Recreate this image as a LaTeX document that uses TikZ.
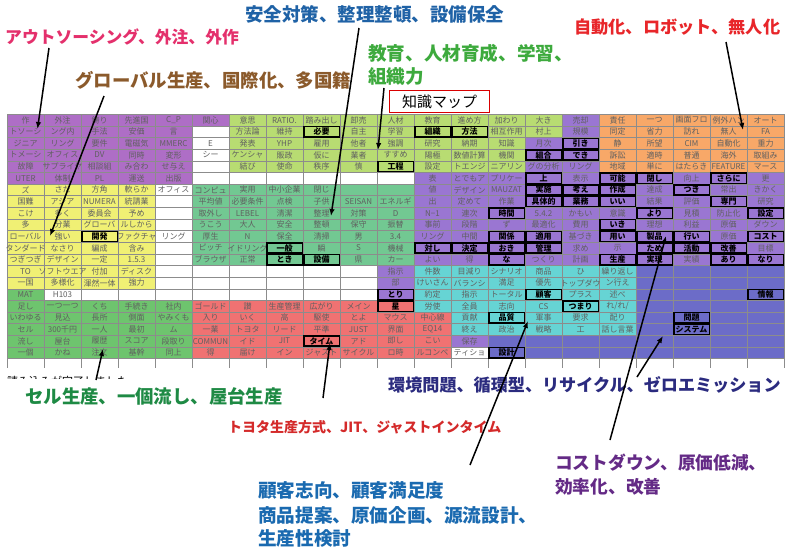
\documentclass[tikz,border=0pt]{standalone}
\usepackage{fontspec}
\setmainfont{Noto Sans CJK JP}
\usetikzlibrary{arrows.meta}
\definecolor{cPurA}{HTML}{AE6EC6}
\definecolor{cPurB}{HTML}{9A76D2}
\definecolor{cYG}{HTML}{B8DC72}
\definecolor{cOra}{HTML}{F8A868}
\definecolor{cYel}{HTML}{F0F074}
\definecolor{cSea}{HTML}{72C892}
\definecolor{cGrn}{HTML}{6EC46E}
\definecolor{cRed}{HTML}{F07272}
\definecolor{cCya}{HTML}{66D4D4}
\definecolor{cSla}{HTML}{6C6CC8}
\definecolor{cTxt}{HTML}{606060}
\definecolor{lPink}{HTML}{E4306C}
\definecolor{lBrown}{HTML}{8B5A2B}
\definecolor{lBlue}{HTML}{1F62A6}
\definecolor{lGreen}{HTML}{3DAA3D}
\definecolor{lRed}{HTML}{E8262A}
\definecolor{lDGreen}{HTML}{1E8A44}
\definecolor{lTRed}{HTML}{D42A2A}
\definecolor{lNavy}{HTML}{2B2B7F}
\definecolor{lCBlue}{HTML}{1A6AB0}
\definecolor{lPurp}{HTML}{642A86}
\newcommand\blk[5]{\fill[#5] ({7+37*(#1)},{114.3+11.63*((#3)-1)}) rectangle ({7+37*((#2)+1)},{114.3+11.63*(#4)});}
\newcommand\rowtext[2]{\foreach \t [count=\ci from 0] in {#2} {\node[ct] (t\ci-#1) at ({25.5+37*\ci},{114.3+11.63*(#1-0.5)}) {\t};}}
\begin{document}
\begin{tikzpicture}[x=1pt,y=-1pt,
  ct/.style={font=\fontsize{8}{8}\selectfont, text=cTxt, inner sep=0pt},
  bx/.style={draw=black, line width=1.5pt, minimum width=35.5pt, minimum height=10.2pt, inner sep=0pt, font=\fontsize{8}{8}\selectfont\bfseries, text=black},
  gridl/.style={draw=black!45, line width=0.5pt},
  lab/.style={anchor=west, inner sep=0pt, font=\bfseries},
  arr/.style={draw=black, line width=1.5pt, -{Latex[length=7pt,width=5.5pt]}}]
\useasboundingbox (0,0) rectangle (793,547);
\fill[white] (0,0) rectangle (793,547);
% colour blocks
\blk{0}{4}{1}{6}{cPurA}
\blk{5}{5}{1}{1}{cPurA}
\blk{6}{14}{1}{5}{cYG}
\blk{14}{14}{3}{5}{cPurB}
\blk{15}{15}{1}{5}{cPurB}
\blk{16}{20}{1}{5}{cOra}
\blk{11}{15}{6}{13}{cPurB}
\blk{16}{20}{6}{13}{cPurB}
\blk{10}{10}{14}{16}{cPurB}
\blk{12}{12}{20}{20}{cPurB}
\blk{0}{3}{7}{15}{cYel}
\blk{5}{10}{7}{13}{cSea}
\blk{0}{4}{17}{21}{cGrn}
\blk{0}{0}{16}{16}{cGrn}
\blk{5}{10}{17}{21}{cRed}
\blk{11}{11}{18}{21}{cRed}
\blk{11}{16}{14}{17}{cCya}
\blk{12}{16}{18}{19}{cCya}
\blk{17}{20}{14}{21}{cSla}
\blk{13}{16}{20}{21}{cSla}
% grid
\foreach \c in {0,...,21} \draw[gridl] ({7+37*\c},114.3) -- ({7+37*\c},368);
\foreach \r in {0,...,21} \draw[gridl] (7,{114.3+11.63*\r}) -- (784,{114.3+11.63*\r});
% cell texts
\rowtext{1}{作,外注,鋳り,先進国,C\_P,関心,意思,RATIO.,踏み出し,卸売,人材,教育,進め方,加わり,大き,売却,責任,一つ,画面フロ,例外ハン,オート}
\rowtext{2}{トソーシ,ング内,手法,安価,言,{},方法論,維持,{},自主,学習,{},{},相互作用,村上,規模,同定,省力,訪れ,無人,FA}
\rowtext{3}{ジニア,リング,要件,電磁気,MMERC,E,発表,YHP,雇用,他者,強調,研究,納期,知識,月次,{},静,所望,CIM,自動化,重力}
\rowtext{4}{トメーシ,オフィス,DV,同時,変形,シー,ケンシャ,販政,仮に,業者,すすめ,陽極,数値計算,機関,{},{},訴訟,適時,普通,海外,取組み}
\rowtext{5}{故障,サプライヤ,相談組,み合わ,せ与え,{},結び,使命,秩序,慎,{},設定,トエンジ,ニアリン,グの分析,リング,地域,単に,はたらき,FEATURE,マース}
\rowtext{6}{UTER,体制,PL,運送,出版,{},{},{},{},{},{},表,とでもア,プリケー,{},表示,{},{},向上,{},更}
\rowtext{7}{ズ,さた,方角,軟らか,オフィス,コンピュ,実用,中小企業,閉じ,{},{},値,デザイン,MAUZAT,{},{},{},達成,{},常出,きかく}
\rowtext{8}{国難,アジア,NUMERA,統請業,{},平均値,必要条件,点検,子供,SEISAN,エネルギ,出,定めて,作業,{},{},{},結果,評価,{},研究}
\rowtext{9}{こけ,多く,委員会,予め,{},取外し,LEBEL,清潔,整理,対策,D,N−1,連次,{},5.4.2,かもい,意識,{},見積,防止化,{}}
\rowtext{10}{多,分業,グローバ,ルしから,{},うこう,大人,安全,整頓,保守,振替,事前,段階,ず,最適化,費用,{},理想,利益,原価,ダウン}
\rowtext{11}{ローバル,強い,{},ファクチャ,リング,厚生,N,保全,清掃,男,3.4,リング,中間,{},{},基づき,{},{},{},原価,{}}
\rowtext{12}{タンダード,なさり,編成,含み,{},ピッチ,イドリング,{},瞬,S,機械,{},{},{},{},求め,示,{},{},{},目標}
\rowtext{13}{つぎつぎ,デザイン,一定,1.5.3,{},ブラウザ,正常,{},{},県,カー,よい,得,{},つくり,計画,{},{},実績,{},{}}
\rowtext{14}{TO,ソフトウエア,付加,ディスク,{},{},{},{},{},{},指示,件数,目減り,シナリオ,商品,ひ,繰り返し,{},{},{},{}}
\rowtext{15}{一国,多様化,渾然一体,強力,{},{},{},{},{},{},部,けいさん,バランシ,満足,優先,トップダウ,ン行え,{},{},{},{}}
\rowtext{16}{MAT,H103,{},{},{},{},{},{},{},{},{},約定,指示,トータル,{},プラス,述べ,{},{},{},{}}
\rowtext{17}{足し,一つ一つ,くち,手続き,社内,ゴールド,讃,生産管理,広がり,メイン,{},労使,全員,志向,CS,{},れ/れ/,{},{},{},{}}
\rowtext{18}{いわゆる,見込,長所,側面,やみくも,入り,いく,高,駆使,とよ,マウス,中心線,貢献,{},軍事,要求,配り,{},{},{},{}}
\rowtext{19}{セル,300千円,一人,最初,ム,一業,トヨタ,リード,平準,JUST,界面,EQ14,終え,政治,戦略,工,話し言葉,{},{},{},{}}
\rowtext{20}{流し,屋台,履歴,スコア,段取り,COMMUN,イド,JIT,{},アド,即し,こい,保存,{},{},{},{},{},{},{},{}}
\rowtext{21}{一個,かね,注文,基幹,同上,得,届け,イン,ジャスト,サイクル,ロ時,ルコンペ,ティショ,{},{},{},{},{},{},{},{}}
% boxed keywords
\foreach \c/\r/\t in {2/11/開発, 8/2/必要, 11/2/組織, 12/2/方法, 15/3/引き, 14/4/組合, 15/4/でき, 10/5/工程, 14/6/上, 16/6/可能, 17/6/閉し, 19/6/さらに, 14/7/実施, 15/7/考え, 16/7/作成, 18/7/つき, 14/8/具体的, 15/8/業務, 16/8/いい, 19/8/専門, 13/9/時間, 17/9/より, 20/9/設定, 16/10/いき, 13/11/関係, 14/11/適用, 16/11/用い, 17/11/製品, 18/11/行い, 20/11/コスト, 7/12/一般, 11/12/対し, 12/12/決定, 13/12/おき, 14/12/管理, 17/12/ため, 18/12/活動, 19/12/改善, 7/13/とき, 8/13/設備, 13/13/な, 16/13/生産, 17/13/実現, 19/13/あり, 20/13/なり, 10/16/とり, 14/16/顧客, 20/16/情報, 10/17/星, 15/17/つまり, 13/18/品質, 18/18/問題, 18/19/システム, 8/20/タイム, 13/21/設計}
  {\node[bx] (b\c-\r) at ({25.5+37*\c},{114.3+11.63*(\r-0.5)}) {\t};}
% status text (half hidden)
\begin{scope}
\clip (0,360) rectangle (300,378.5);
\node[anchor=west, inner sep=0pt, font=\fontsize{11}{11}\selectfont] (status) at (7,381) {読み込みが完了しました};
\end{scope}
% title box
\node[draw=red!85!black, line width=1.2pt, fill=white, minimum width=100pt, minimum height=22pt, inner sep=0pt, font=\fontsize{15}{15}\selectfont] (title) at (439.5,101.5) {知識マップ};
% labels
\node[lab, text=lPink, font=\fontsize{16.8}{17}\selectfont\bfseries] (lOut) at (5,37) {アウトソーシング、外注、外作};
\node[lab, text=lBrown, font=\fontsize{18.4}{19}\selectfont\bfseries] (lGlob) at (75,80) {グローバル生産、国際化、多国籍};
\node[lab, text=lBlue, font=\fontsize{18.5}{19}\selectfont\bfseries] (lSafe) at (245,14) {安全対策、整理整頓、設備保全};
\node[lab, text=lGreen, font=\fontsize{18.6}{19}\selectfont\bfseries] (lEdu) at (368,53) {教育、人材育成、学習、};
\node[lab, text=lGreen, font=\fontsize{18.6}{19}\selectfont\bfseries] (lEdu2) at (368,76) {組織力};
\node[lab, text=lRed, font=\fontsize{17.2}{18}\selectfont\bfseries] (lAuto) at (574,27) {自動化、ロボット、無人化};
\node[lab, text=lDGreen, font=\fontsize{18.4}{19}\selectfont\bfseries] (lCell) at (25,396) {セル生産、一個流し、屋台生産};
\node[lab, text=lTRed, font=\fontsize{14}{15}\selectfont\bfseries] (lToyo) at (228,427) {トヨタ生産方式、JIT、ジャストインタイム};
\node[lab, text=lNavy, font=\fontsize{17.1}{18}\selectfont\bfseries] (lEnv) at (388,385) {環境問題、循環型、リサイクル、ゼロエミッション};
\node[lab, text=lCBlue, font=\fontsize{18.6}{19}\selectfont\bfseries] (lCus1) at (258,490) {顧客志向、顧客満足度};
\node[lab, text=lCBlue, font=\fontsize{18.6}{19}\selectfont\bfseries] (lCus2) at (258,515) {商品提案、原価企画、源流設計、};
\node[lab, text=lCBlue, font=\fontsize{18.6}{19}\selectfont\bfseries] (lCus3) at (258,538) {生産性検討};
\node[lab, text=lPurp, font=\fontsize{17.7}{18}\selectfont\bfseries] (lCost1) at (555,463) {コストダウン、原価低減、};
\node[lab, text=lPurp, font=\fontsize{17.7}{18}\selectfont\bfseries] (lCost2) at (555,487) {効率化、改善};
% arrow ends
\coordinate (s1) at (49,48);   \coordinate (e1) at (37.5,129);
\coordinate (s2) at (104,96);  \coordinate (e2) at (50,236);
\coordinate (s3) at (359,28);  \coordinate (e3) at (331,216);
\coordinate (s4) at (384,88);  \coordinate (e4) at (378,150);
\coordinate (s5) at (726,42);  \coordinate (e5) at (743,130);
\coordinate (s6) at (96,380);  \coordinate (e6) at (103,349);
\coordinate (s7) at (323,398); \coordinate (e7) at (330,343);
\coordinate (s8) at (470,465); \coordinate (e8) at (528,321);
\coordinate (s9) at (610,440); \coordinate (e9) at (666,236);
\coordinate (s10) at (637,377); \coordinate (e10) at (663,336);
\foreach \i in {1,...,10} \draw[arr] (s\i) -- (e\i);
\end{tikzpicture}
\end{document}
